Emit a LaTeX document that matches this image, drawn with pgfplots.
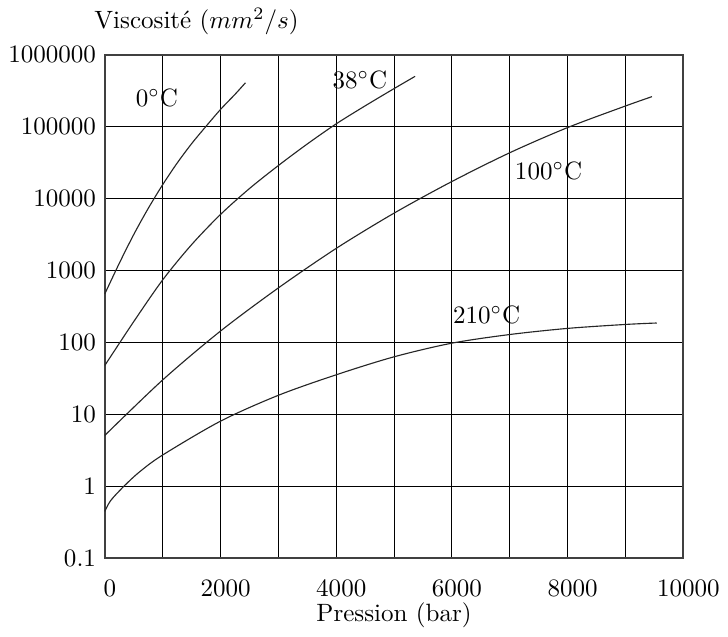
\documentclass[border=0pt]{standalone}
\usepackage{pgfplots}
\pgfplotsset{compat=1.18}
\begin{document}
\begin{tikzpicture}
\begin{axis}[
  scale only axis,
  width=231pt, height=201pt,
  xmin=0, xmax=10000,
  ymode=log, ymin=0.1, ymax=1000000,
  scaled x ticks=false,
  xtick={0,2000,4000,6000,8000,10000},
  xticklabels={0,2000,4000,6000,8000,10000},
  minor xtick={1000,3000,5000,7000,9000},
  ytick={0.1,1,10,100,1000,10000,100000,1000000},
  yticklabels={0.1,1,10,100,1000,10000,100000,1000000},
  yminorticks=false,
  xmajorgrids=true, xminorgrids=true, ymajorgrids=true,
  major grid style={black, line width=0.4pt},
  minor grid style={black, line width=0.4pt},
  tick style={draw=none},
  axis line style={black!75, line width=0.7pt},
  xticklabel style={yshift=-5pt, xshift=2pt},
  xlabel={Pression (bar)},
  xlabel style={at={(rel axis cs:0.5,0)}, anchor=north, yshift=-14.3pt},
  clip=false,
]
\addplot[smooth, black!85, line width=0.45pt] coordinates {
 (0,474) (250,1262) (500,3170) (750,7311) (1000,15630) (1250,31190)
 (1500,58070) (1750,101400) (2000,173800) (2250,281800) (2430,407400)};
\addplot[smooth, black!85, line width=0.45pt] coordinates {
 (0,47.9) (500,195) (1000,741) (1500,2291) (2000,6026) (2500,13800)
 (3000,28840) (3500,57540) (4000,109600) (4500,195000) (5000,338800) (5363,501200)};
\addplot[smooth, black!85, line width=0.45pt] coordinates {
 (0,5.1) (1000,30.1) (2000,144) (3000,573) (4000,2032) (5000,6281)
 (6000,17300) (7000,43450) (8000,97270) (9000,194100) (9458,261800)};
\addplot[smooth, black!85, line width=0.45pt] coordinates {
 (0,0.447) (100,0.631) (330,1) (600,1.585) (1000,2.72) (2000,8.04)
 (3000,18.4) (4000,35.5) (5000,63.1) (6000,97.7) (7000,128.8)
 (8000,156.7) (9000,177.8) (9540,186.2)};
\node at (axis cs:900,251000) {0$^\circ$C};
\node at (axis cs:4410,450000) {38$^\circ$C};
\node at (axis cs:7670,24400) {100$^\circ$C};
\node at (axis cs:6600,242) {210$^\circ$C};
\node[anchor=base west, xshift=-7.7pt, yshift=10.4pt] at (rel axis cs:0,1) {Viscosit\'e ($mm^2/s$)};
\end{axis}
\end{tikzpicture}
\end{document}
